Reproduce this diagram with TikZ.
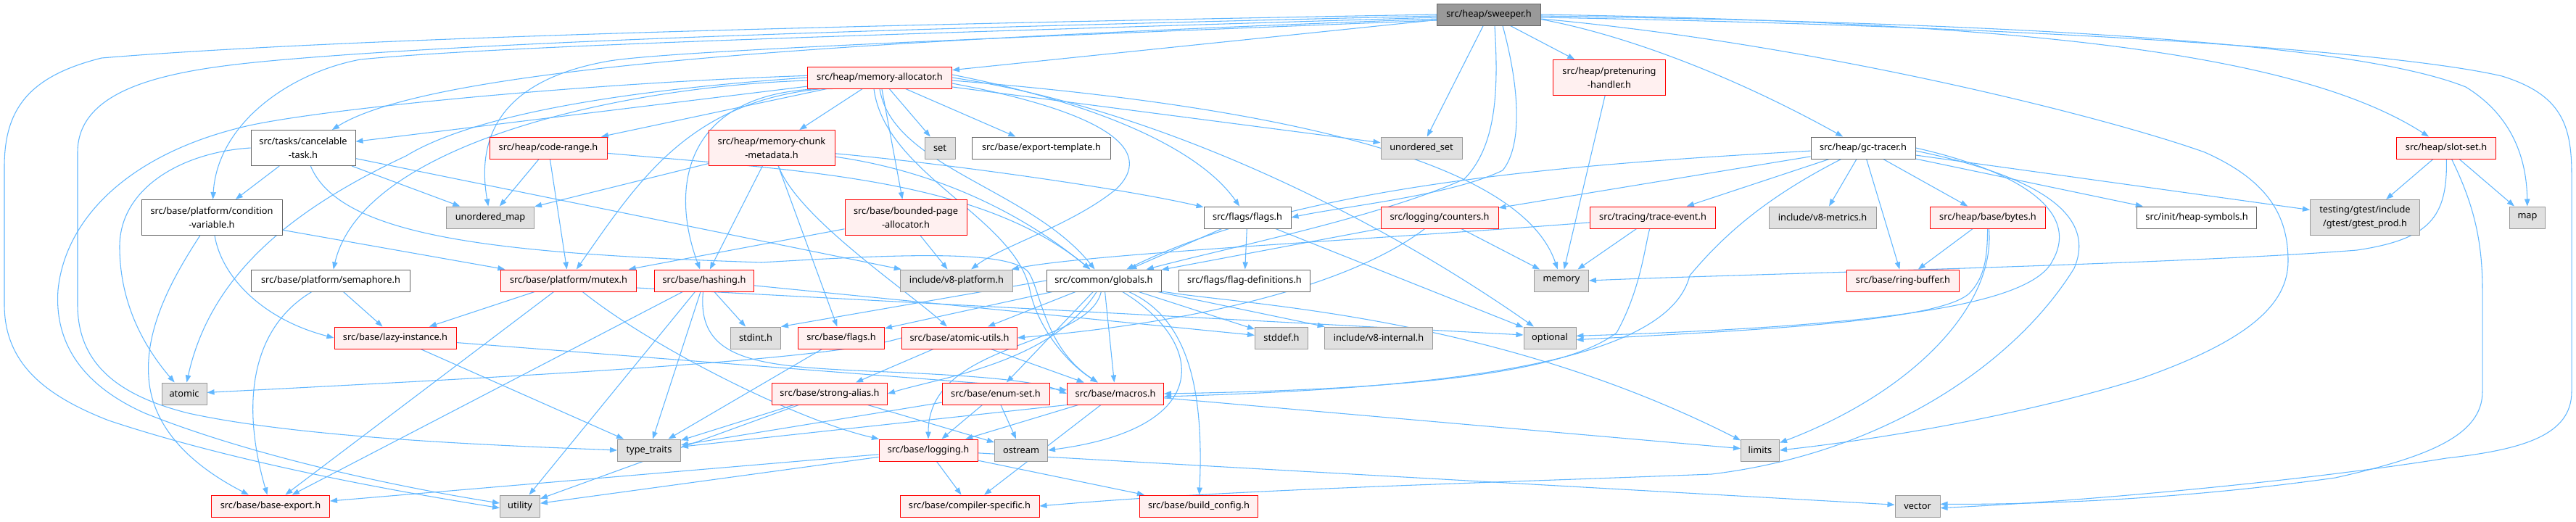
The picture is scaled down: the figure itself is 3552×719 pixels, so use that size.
\documentclass[tikz,border=0pt]{standalone}
\usepackage{fontspec}
\newfontfamily\nodefont{Noto Sans}
\usetikzlibrary{arrows.meta,calc}
\pgfdeclarelayer{bg}
\pgfdeclarelayer{edges}
\pgfsetlayers{bg,edges,main}
\definecolor{edgec}{HTML}{63B8FF}
\definecolor{sysfill}{HTML}{E0E0E0}
\definecolor{sysdraw}{HTML}{999999}
\definecolor{redfill}{HTML}{FFF0F0}
\definecolor{reddraw}{HTML}{FF0000}
\definecolor{whdraw}{HTML}{666666}
\definecolor{mainfill}{HTML}{999999}
\tikzset{
  nb/.style={draw, line width=0.75pt, inner sep=0pt, minimum height=22.5pt,
    font={\nodefont\fontsize{9.6pt}{14.4pt}\selectfont}, align=center, text=black},
  sysn/.style={nb, fill=sysfill, draw=sysdraw},
  redn/.style={nb, fill=redfill, draw=reddraw},
  whn/.style={nb, fill=white, draw=whdraw},
  mainn/.style={nb, fill=mainfill, draw=whdraw},
  bw/.style={minimum width=#1*0.75pt},
  twoline/.style={minimum height=36.75pt},
  dep/.style={draw=edgec, line width=0.8pt, -{Triangle[length=7.5pt,width=5.5pt]}},
}
\begin{document}
\begin{tikzpicture}[x=0.75pt,y=-0.75pt]
\begin{pgfonlayer}{bg}
\fill[white] (0,0) rectangle (3552,719);
\end{pgfonlayer}
\useasboundingbox (0,0) rectangle (3552,719);

% nodes
\node[mainn,bw=143] (sw) at (2053,20) {src/heap/sweeper.h};
\node[redn,bw=199] (ma) at (1213,107) {src/heap/memory-allocator.h};
\node[redn,bw=155,twoline] (ph) at (2219,107) {src/heap/pretenuring\\-handler.h};
\node[whn,bw=144] (gc) at (2569,204) {src/heap/gc-tracer.h};
\node[redn,bw=137] (ss) at (3373,204) {src/heap/slot-set.h};
\node[whn,bw=144,twoline] (ct) at (418,204) {src/tasks/cancelable\\-task.h};
\node[redn,bw=162] (cr) at (756,204) {src/heap/code-range.h};
\node[redn,bw=174,twoline] (mcm) at (1064,204) {src/heap/memory-chunk\\-metadata.h};
\node[sysn,bw=42] (set) at (1296,204) {set};
\node[whn,bw=191] (et) at (1436,204) {src/base/export-template.h};
\node[sysn,bw=112] (us) at (1960,204) {unordered\_set};
\node[sysn,bw=121] (um) at (676,300) {unordered\_map};
\node[whn,bw=194,twoline] (cv) at (292,300) {src/base/platform/condition\\-variable.h};
\node[redn,bw=168,twoline] (bpa) at (1249,300) {src/base/bounded-page\\-allocator.h};
\node[whn,bw=120] (fl) at (1720,300) {src/flags/flags.h};
\node[redn,bw=162] (cnt) at (1985,300) {src/logging/counters.h};
\node[redn,bw=173] (te) at (2279,300) {src/tracing/trace-event.h};
\node[sysn,bw=148] (vm) at (2513,300) {include/v8-metrics.h};
\node[redn,bw=159] (by) at (2741,300) {src/heap/base/bytes.h};
\node[whn,bw=165] (hs) at (3029,300) {src/init/heap-symbols.h};
\node[sysn,bw=151,twoline] (gt) at (3261,300) {testing/gtest/include\\/gtest/gtest\_prod.h};
\node[sysn,bw=49] (mp) at (3485,300) {map};
\node[whn,bw=219] (sem) at (456,387) {src/base/platform/semaphore.h};
\node[redn,bw=187] (mx) at (784,387) {src/base/platform/mutex.h};
\node[redn,bw=137] (hsh) at (971,387) {src/base/hashing.h};
\node[sysn,bw=155] (vp) at (1319,387) {include/v8-platform.h};
\node[whn,bw=158] (gl) at (1522,387) {src/common/globals.h};
\node[whn,bw=181] (fd) at (1716,387) {src/flags/flag-definitions.h};
\node[sysn,bw=75] (mem) at (2153,387) {memory};
\node[redn,bw=155] (rb) at (2624,387) {src/base/ring-buffer.h};
\node[redn,bw=168] (li) at (545,466) {src/base/lazy-instance.h};
\node[sysn,bw=69] (si) at (1042,466) {stdint.h};
\node[redn,bw=119] (bf) at (1160,466) {src/base/flags.h};
\node[redn,bw=159] (au) at (1323,466) {src/base/atomic-utils.h};
\node[sysn,bw=73] (sd) at (1767,466) {stddef.h};
\node[sysn,bw=149] (vi) at (1901,466) {include/v8-internal.h};
\node[sysn,bw=72] (op) at (2137,466) {optional};
\node[sysn,bw=62] (at) at (254,543) {atomic};
\node[redn,bw=159] (sa) at (1144,543) {src/base/strong-alias.h};
\node[redn,bw=148] (es) at (1373,543) {src/base/enum-set.h};
\node[redn,bw=133] (mac) at (1538,543) {src/base/macros.h};
\node[sysn,bw=87] (tt) at (895,621) {type\_traits};
\node[redn,bw=136] (lg) at (1280,621) {src/base/logging.h};
\node[sysn,bw=73] (os) at (1408,621) {ostream};
\node[sysn,bw=53] (lim) at (2427,621) {limits};
\node[redn,bw=163] (be) at (373,698) {src/base/base-export.h};
\node[sysn,bw=55] (ut) at (717,698) {utility};
\node[redn,bw=192] (cs) at (1337,698) {src/base/compiler-specific.h};
\node[redn,bw=163] (bc) at (1653,698) {src/base/build\_config.h};
\node[sysn,bw=62] (vec) at (2644,698) {vector};

\begin{pgfonlayer}{edges}
% sweeper
\draw[dep] (sw.west) .. controls (1300,32) and (500,50) .. (140,80) .. controls (40,105) and (6,150) .. (6,230) -- (6,420) .. controls (6,500) and (60,545) .. (150,580) .. controls (330,640) and (560,680) .. ([yshift=-2pt]ut.west);
\draw[dep] ([yshift=-1.5pt]sw.west) .. controls (1300,38) and (700,55) .. (383,83) .. controls (250,95) and (107,115) .. (107,210) -- (107,420) .. controls (107,500) and (160,545) .. (260,570) .. controls (420,605) and (700,615) .. (tt.west);
\draw[dep] ([yshift=-3pt]sw.west) .. controls (1300,45) and (700,62) .. (497,82) .. controls (400,100) and (300,170) .. (cv);
\draw[dep] ([yshift=-4.5pt]sw.west) .. controls (1200,55) and (600,90) .. (ct);
\draw[dep] ([yshift=-6pt]sw.west) .. controls (1300,55) and (900,72) .. (835,85) .. controls (700,110) and (655,180) .. (um);
\draw[dep] ($(sw.south)+(8,0)$) .. controls (2066,120) and (2065,200) .. (2019,247) .. controls (1900,300) and (1700,340) .. (gl);
\draw[dep] ($(sw.south)+(19,0)$) .. controls (2095,120) and (2100,200) .. (2072,235) .. controls (2000,270) and (1850,285) .. (fl.east);
\draw[dep] (sw) -- (ph);
\draw[dep] ([yshift=-5pt]sw.east) .. controls (2250,50) and (2400,110) .. (gc);
\draw[dep] (sw) -- (us);
\draw[dep] (sw) -- (ma);
\draw[dep] (sw.east) .. controls (2700,30) and (3150,60) .. (ss);
\draw[dep] ([yshift=-1.5pt]sw.east) .. controls (2800,32) and (3250,60) .. (3400,120) .. controls (3465,160) and (3484,220) .. (mp);
\draw[dep] ([yshift=-3pt]sw.east) .. controls (2800,36) and (3300,70) .. (3450,105) .. controls (3530,130) and (3546,170) .. (3546,240) -- (3546,540) .. controls (3546,600) and (3480,620) .. (3373,632) .. controls (3200,660) and (2900,690) .. ([yshift=-2pt]vec.east);
\draw[dep] ([yshift=-4.5pt]sw.east) .. controls (2500,60) and (2900,160) .. (3040,210) .. controls (3130,250) and (3155,300) .. (3155,360) .. controls (3155,420) and (3100,470) .. (2952,522) .. controls (2800,570) and (2600,605) .. (lim.east);
% memory-allocator
\draw[dep] (ma) -- (ct);
\draw[dep] (ma) -- (cr);
\draw[dep] (ma) -- (mcm);
\draw[dep] (ma) -- (set);
\draw[dep] (ma) -- (et);
\draw[dep] (ma) -- (us);
\draw[dep] (ma.east) .. controls (1600,150) and (1900,300) .. (op);
\draw[dep] ($(ma.south)+(-8,0)$) .. controls (1220,240) and (1400,300) .. (1420,400) .. controls (1430,450) and (1470,500) .. (mac);
\draw[dep] (ma.south) .. controls (1230,230) and (1420,260) .. (gl);
\draw[dep] (ma) -- (bpa);
\draw[dep] ([yshift=3pt]ma.east) .. controls (1500,140) and (1650,200) .. (fl);
\draw[dep] ([yshift=-3pt]ma.east) .. controls (1800,150) and (2100,230) .. (mem);
\draw[dep] ([yshift=-6pt]ma.east) .. controls (1500,150) and (1600,200) .. (1540,260) .. controls (1480,310) and (1380,340) .. (vp);
\draw[dep] ($(ma.south west)+(20,0)$) .. controls (950,140) and (880,250) .. (mx);
\draw[dep] ([yshift=-3pt]ma.west) .. controls (850,120) and (500,200) .. (sem);
\draw[dep] ($(ma.south west)+(35,0)$) .. controls (950,120) and (920,250) .. (hsh);
\draw[dep] (ma.west) .. controls (850,125) and (650,160) .. (560,215) .. controls (400,290) and (290,380) .. (at);
\draw[dep] ([yshift=2pt]ma.west) .. controls (800,115) and (450,150) .. (344,173) .. controls (180,210) and (90,300) .. (80,400) .. controls (75,470) and (110,530) .. (200,570) .. controls (350,630) and (550,672) .. ([yshift=3pt]ut.west);
% cancelable-task
\draw[dep] (ct) -- (cv);
\draw[dep] (ct.west) .. controls (250,210) and (165,260) .. (165,340) .. controls (165,420) and (200,480) .. (at);
\draw[dep] (ct) -- (um);
\draw[dep] (ct) -- (vp);
\draw[dep] (ct) .. controls (470,330) and (700,350) .. (1050,362) .. controls (1250,350) and (1390,345) .. (1418,375) .. controls (1435,400) and (1440,480) .. (mac);
% code-range
\draw[dep] (cr) -- (um);
\draw[dep] (cr) -- (mx);
\draw[dep] (cr) .. controls (1100,235) and (1350,245) .. (gl);
% memory-chunk-metadata
\draw[dep] (mcm) -- (um);
\draw[dep] (mcm) -- (hsh);
\draw[dep] (mcm) .. controls (1250,230) and (1380,270) .. (gl);
\draw[dep] (mcm) .. controls (1300,225) and (1550,260) .. (fl);
\draw[dep] (mcm) .. controls (1100,300) and (1250,400) .. (au);
\draw[dep] (mcm) -- (bf);
% bounded page allocator
\draw[dep] (bpa) -- (vp);
\draw[dep] (bpa) -- (mx);
% flags
\draw[dep] (fl) -- (gl);
\draw[dep] (fl) -- (fd);
\draw[dep] (fl) -- (op);
% counters
\draw[dep] (cnt) -- (gl);
\draw[dep] (cnt) -- (mem);
\draw[dep] (cnt) .. controls (1880,380) and (1700,440) .. (au.east);
% trace-event
\draw[dep] (te) -- (mem);
\draw[dep] (te) .. controls (1900,330) and (1500,350) .. (vp);
\draw[dep] (te) .. controls (2268,340) and (2262,400) .. (2229,459) .. controls (2150,520) and (1900,538) .. (mac.east);
% pretenuring
\draw[dep] (ph) -- (mem);
% gc-tracer
\draw[dep] (gc) -- (vm);
\draw[dep] (gc) -- (by);
\draw[dep] (gc) -- (hs);
\draw[dep] (gc) -- (gt);
\draw[dep] (gc) -- (rb);
\draw[dep] (gc) -- (cnt);
\draw[dep] (gc) -- (te);
\draw[dep] (gc) .. controls (2200,225) and (1800,250) .. (gl);
\draw[dep] (gc) .. controls (2440,270) and (2380,320) .. (2330,380) .. controls (2300,500) and (2000,535) .. ([yshift=-3pt]mac.east);
\draw[dep] (gc.east) .. controls (2780,235) and (2870,290) .. (2830,360) .. controls (2800,420) and (2600,450) .. ([yshift=2pt]op.east);
\draw[dep] ([yshift=-3pt]gc.east) .. controls (2820,245) and (2890,300) .. (2860,370) .. controls (2780,500) and (2600,625) .. (2360,654) .. controls (2000,668) and (1700,675) .. (cs.east);
% bytes
\draw[dep] (by) -- (rb);
\draw[dep] (by) .. controls (2740,345) and (2740,380) .. (2715,405) .. controls (2670,445) and (2400,456) .. ([yshift=-2pt]op.east);
\draw[dep] (by) .. controls (2752,420) and (2640,540) .. (lim);
% slot-set
\draw[dep] (ss) -- (gt);
\draw[dep] (ss) -- (mp);
\draw[dep] (ss) .. controls (3375,300) and (3350,330) .. (3250,345) .. controls (3000,365) and (2400,378) .. (mem.east);
\draw[dep] (ss) .. controls (3410,280) and (3423,330) .. (3423,400) -- (3423,540) .. controls (3423,600) and (3350,630) .. (3220,659) .. controls (3000,690) and (2800,696) .. ([yshift=2pt]vec.east);
% condition-variable
\draw[dep] (cv) .. controls (240,380) and (200,450) .. (205,520) .. controls (210,600) and (280,650) .. (be);
\draw[dep] (cv) .. controls (305,380) and (360,440) .. (li.west);
\draw[dep] (cv) -- (mx);
% semaphore
\draw[dep] (sem) .. controls (350,450) and (330,550) .. (be);
\draw[dep] (sem) -- (li);
% mutex
\draw[dep] (mx) -- (li);
\draw[dep] (mx) -- (be);
\draw[dep] (mx) .. controls (900,480) and (1100,580) .. (lg);
\draw[dep] ([yshift=-7.5pt]mx.east) -- ([yshift=3pt]op.west);
% hashing
\draw[dep] (hsh) -- (sd);
\draw[dep] (hsh) -- (si);
\draw[dep] (hsh) -- (tt);
\draw[dep] (hsh) -- (ut);
\draw[dep] (hsh) -- (be);
\draw[dep] (hsh) .. controls (960,500) and (1050,505) .. (1200,512) .. controls (1350,518) and (1430,525) .. (mac.west);
% lazy-instance
\draw[dep] (li) -- (mac);
\draw[dep] (li) -- (tt);
% atomic-utils
\draw[dep] (au.west) .. controls (1150,495) and (800,515) .. (at);
\draw[dep] (au) -- (mac);
\draw[dep] (au) -- (sa);
% strong-alias
\draw[dep] (sa) -- (tt);
\draw[dep] (sa) -- (ut);
\draw[dep] (sa) -- (os);
% base flags
\draw[dep] (bf) -- (tt);
% enum-set
\draw[dep] (es) -- (lg);
\draw[dep] (es) -- (os);
\draw[dep] (es) -- (tt);
% macros
\draw[dep] (mac.south west) -- (tt);
\draw[dep] (mac) -- (lim);
\draw[dep] (mac) -- (lg);
\draw[dep] (mac) -- (cs);
% logging
\draw[dep] (lg) -- (cs);
\draw[dep] (lg) -- (bc);
\draw[dep] (lg) -- (be);
\draw[dep] (lg) -- (ut);
\draw[dep] (lg) -- (vec);
% globals
\draw[dep] (gl) -- (bf);
\draw[dep] (gl) -- (au);
\draw[dep] (gl) .. controls (1450,500) and (1300,520) .. (sa.east);
\draw[dep] (gl) -- (es);
\draw[dep] (gl) -- (mac);
\draw[dep] (gl) .. controls (1500,480) and (1280,470) .. (lg);
\draw[dep] (gl) .. controls (1660,470) and (1680,590) .. (os.east);
\draw[dep] (gl) .. controls (1640,440) and (1660,540) .. (bc);
\draw[dep] (gl) -- (sd);
\draw[dep] (gl) -- (vi);
\draw[dep] (gl) .. controls (1700,420) and (2050,430) .. (lim);
\draw[dep] (gl.west) -- (si.north east);
\end{pgfonlayer}
\end{tikzpicture}
\end{document}
